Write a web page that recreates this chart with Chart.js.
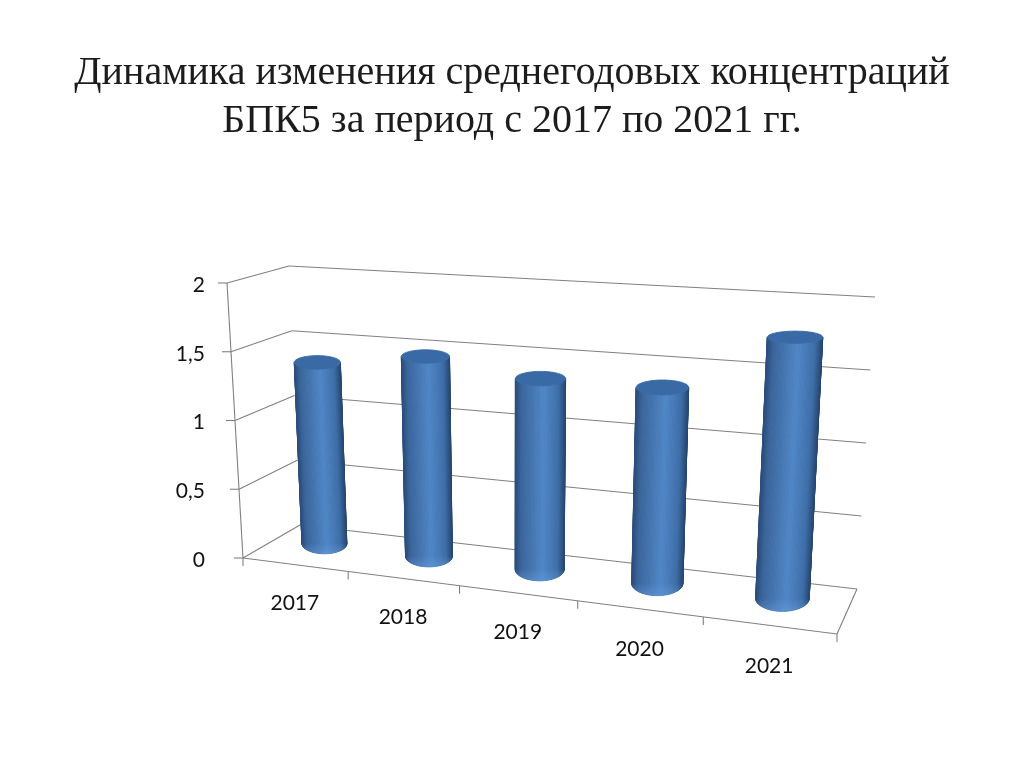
<!DOCTYPE html>
<html lang="ru">
<head>
<meta charset="utf-8">
<title>БПК5</title>
<style>
html,body{margin:0;padding:0;background:#fff}
canvas{display:block}
#t{position:absolute;left:0;top:47px;width:1024px;margin:0;text-align:center;font:normal 40px/48px "Liberation Serif",serif;color:#1c1c1c}
</style>
<script src="https://cdn.jsdelivr.net/npm/chart.js@4"></script>
</head>
<body>
<h1 id="t"></h1>
<canvas id="c" width="1024" height="767"></canvas>
<script>
const titleLines = ["Динамика изменения среднегодовых концентраций", "БПК5 за период с 2017 по 2021 гг."];
const categories = ["2017", "2018", "2019", "2020", "2021"];
const values = [1.35, 1.45, 1.35, 1.35, 1.75];

// Wire-frame box of the 3D plot: [front/back][left/right][floor/top]
const box = {
  fl0: [243, 558], fr0: [837, 634], bl0: [300, 525], br0: [857, 589],
  fl1: [227, 283], fr1: [855, 314], bl1: [289, 266], br1: [875, 297]
};
const PERSP = 1.162, DEPTH_X = 0.55, DEPTH_Y = 0.62, RU = 0.042, RD = 0.3;
const shade = [[0, [44, 78, 124]], [0.1, [58, 100, 154]], [0.55, [79, 134, 198]], [0.85, [62, 110, 168]], [1, [38, 68, 108]]];

const warp = u => u / (u + PERSP * (1 - u));
const lerp = (a, b, t) => a + (b - a) * t;
const mix = (p, q, t) => [lerp(p[0], q[0], t), lerp(p[1], q[1], t)];
function project(u, h, d) {
  const f = warp(u);
  const front = mix(mix(box.fl0, box.fr0, f), mix(box.fl1, box.fr1, f), h);
  const back = mix(mix(box.bl0, box.br0, f), mix(box.bl1, box.br1, f), h);
  return mix(front, back, d);
}
function colorAt(t) {
  for (let i = 1; i < shade.length; i++) {
    if (t <= shade[i][0]) {
      const s = (t - shade[i - 1][0]) / (shade[i][0] - shade[i - 1][0]);
      const a = shade[i - 1][1], b = shade[i][1];
      return `rgb(${Math.round(lerp(a[0], b[0], s))},${Math.round(lerp(a[1], b[1], s))},${Math.round(lerp(a[2], b[2], s))})`;
    }
  }
  return "rgb(38,68,108)";
}
function line(ctx, a, b) {
  ctx.beginPath(); ctx.moveTo(a[0], a[1]); ctx.lineTo(b[0], b[1]); ctx.stroke();
}
function unit(chart, px, py) {
  const A = chart.chartArea;
  return [(px - A.left) / (A.right - A.left), (A.bottom - py) / (A.bottom - A.top)];
}
function ellipseAt(u, h) {
  const c = [project(u, h, DEPTH_X)[0], project(u, h, DEPTH_Y)[1]];
  const rx = Math.abs(project(u + RU, 0, DEPTH_X)[0] - project(u - RU, 0, DEPTH_X)[0]) / 2 * (1 + 0.04 * h) * (1.06 - 0.08 * u);
  const ry = Math.abs(project(u, h, DEPTH_Y + RD)[1] - project(u, h, DEPTH_Y - RD)[1]) / 2;
  return { c, ry, at: th => [c[0] + rx * Math.cos(th), c[1] + ry * Math.sin(th)] };
}

const plot3d = {
  id: "plot3d",
  beforeDatasetsDraw(chart) {
    const ctx = chart.ctx, ys = chart.scales.y;
    ctx.save();
    ctx.strokeStyle = "#808080"; ctx.lineWidth = 1.1;
    ys.ticks.forEach(t => {
      const h = unit(chart, 0, ys.getPixelForValue(t.value))[1];
      const p = project(0, h, 0);
      line(ctx, [p[0] - 9, p[1]], p);
      line(ctx, p, project(0, h, 1));
      line(ctx, project(0, h, 1), project(1, h, 1));
    });
    line(ctx, project(0, 0, 0), project(0, 1, 0));
    line(ctx, project(0, 0, 0), project(1, 0, 0));
    line(ctx, project(1, 0, 0), project(1, 0, 1));
    for (let i = 0; i <= categories.length; i++) {
      const p = project(i / categories.length, 0, 0);
      line(ctx, p, [p[0], p[1] + 8]);
    }
    ctx.restore();
  },
  beforeDatasetDraw(chart, args) {
    const ctx = chart.ctx, meta = chart.getDatasetMeta(args.index);
    meta.data.forEach(el => {
      const [u, h] = unit(chart, el.x, el.y);
      const low = ellipseAt(u, 0), high = ellipseAt(u, h);
      const N = 64;
      ctx.save();
      ctx.lineWidth = 0.9;
      for (let i = 0; i < N; i++) {
        const a = Math.PI * i / N, b = Math.PI * (i + 1) / N;
        const c = colorAt((Math.cos((a + b) / 2) + 1) / 2);
        const p = [low.at(a), low.at(b), high.at(b), high.at(a)];
        ctx.fillStyle = c; ctx.strokeStyle = c;
        ctx.beginPath();
        p.forEach((q, k) => k ? ctx.lineTo(q[0], q[1]) : ctx.moveTo(q[0], q[1]));
        ctx.closePath(); ctx.fill(); ctx.stroke();
      }
      const glow = ctx.createLinearGradient(0, low.c[1], 0, low.c[1] + low.ry);
      glow.addColorStop(0, "rgba(110,165,230,0)");
      glow.addColorStop(1, "rgba(110,165,230,0.4)");
      ctx.fillStyle = glow;
      ctx.beginPath();
      for (let i = 0; i <= 32; i++) {
        const q = low.at(Math.PI * i / 32);
        i ? ctx.lineTo(q[0], q[1]) : ctx.moveTo(q[0], q[1]);
      }
      ctx.closePath(); ctx.fill();
      ctx.fillStyle = "#3a6aa6"; ctx.strokeStyle = "#3a6aa6"; ctx.lineWidth = 0.9;
      ctx.beginPath();
      for (let i = 0; i < 48; i++) {
        const q = high.at(2 * Math.PI * i / 48);
        i ? ctx.lineTo(q[0], q[1]) : ctx.moveTo(q[0], q[1]);
      }
      ctx.closePath(); ctx.fill(); ctx.stroke();
      ctx.restore();
    });
    return false;
  },
  afterDraw(chart) {
    const ctx = chart.ctx, xs = chart.scales.x;
    ctx.save();
    ctx.fillStyle = "#111";
    ctx.font = '21px Lato';
    ctx.textAlign = "center"; ctx.textBaseline = "middle";
    categories.forEach((c, i) => {
      const u = unit(chart, xs.getPixelForValue(i), chart.chartArea.bottom)[0];
      const p = project(u, 0, 0);
      ctx.fillText(c, p[0], p[1] + 38 + 3 * u);
    });
    ctx.restore();
  }
};

document.getElementById("t").innerHTML = titleLines.join("<br>");
new Chart(document.getElementById("c"), {
  type: "bar",
  data: { labels: categories, datasets: [{ data: values, backgroundColor: "#4a7ebb" }] },
  plugins: [plot3d],
  options: {
    responsive: false, animation: false, events: [],
    layout: { padding: { left: 170, right: 187, top: 285, bottom: 207 } },
    plugins: { legend: { display: false }, tooltip: { enabled: false }, title: { display: false } },
    scales: {
      x: { grid: { display: false, drawTicks: false }, border: { display: false }, ticks: { display: false } },
      y: {
        min: 0, max: 2,
        afterFit(s) { s.width = 73; },
        grid: { display: false, drawTicks: false }, border: { display: false },
        ticks: { stepSize: 0.5, padding: 38, color: "#111", font: { family: "Lato", size: 21 },
          callback: v => String(v).replace(".", ",") }
      }
    }
  }
});
</script>
</body>
</html>
